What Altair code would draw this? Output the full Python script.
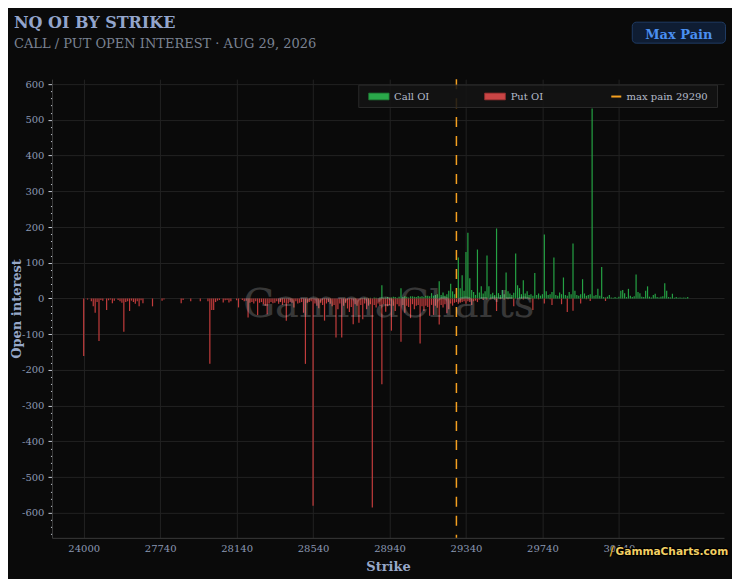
import json
import altair as alt
import pandas as pd

# ---------------- data ----------------
FAR_STRIKES = [24000, 24250, 24500, 24750, 25000, 25250, 25500, 25750, 26000, 26250,
               26500, 26600, 26700, 26800, 26900, 27000, 27050, 27100, 27150, 27200,
               27250, 27300, 27350, 27400, 27450, 27500, 27525, 27550, 27575, 27600,
               27620, 27640, 27660, 27680, 27690, 27700, 27710, 27720, 27725, 27730]
NEAR_STRIKES = [27740 + 10 * k for k in range(281)]   # 10-point strikes 27740 .. 30540
STRIKES = FAR_STRIKES + NEAR_STRIKES

CALL_OI = [
    0, 0, 0, 0, 0, 0, 0, 0, 0, 0, 0, 0, 0, 0, 0, 0, 0, 0, 0, 0,
    0, 0, 0, 0, 0, 0, 0, 0, 0, 0, 0, 0, 0, 0, 0, 0, 0, 0, 0, 0,
    0, 0, 0, 0, 0, 0, 0, 0, 0, 0, 0, 0, 0, 0, 0, 0, 0, 0, 0, 0,
    0, 0, 0, 0, 0, 0, 0, 0, 0, 0, 0, 0, 0, 0, 0, 0, 0, 0, 0, 0,
    0, 0, 0, 0, 0, 0, 0, 0, 0, 0, 0, 0, 0, 0, 0, 0, 0, 0, 0, 0,
    0, 0, 0, 0, 0, 0, 0, 0, 0, 0, 0, 0, 0, 0, 0, 0, 0, 0, 0, 0,
    0, 0, 0, 0, 0, 0, 0, 0, 0, 0, 0, 0, 0, 0, 0, 0, 0, 0, 0, 0,
    0, 0, 1, 0, 0, 1, 0, 2, 0, 1, 2, 0, 3, 2, 1, 3, 37, 2, 3, 4,
    2, 3, 5, 4, 2, 5, 29, 4, 6, 5, 3, 6, 6, 5, 4, 7, 5, 6, 4, 8,
    8, 6, 15, 8, 10, 12, 48, 10, 17, 8, 12, 22, 41, 20, 12, 14, 115, 29, 65, 22,
    130, 184, 57, 24, 18, 10, 137, 17, 34, 14, 20, 120, 34, 12, 16, 10, 196, 15, 10, 24,
    12, 73, 20, 14, 10, 16, 126, 37, 29, 12, 51, 14, 20, 10, 12, 8, 71, 10, 14, 8,
    12, 179, 20, 10, 12, 18, 115, 10, 8, 17, 12, 59, 10, 8, 18, 12, 154, 22, 10, 8,
    12, 54, 14, 8, 10, 12, 532, 8, 10, 27, 8, 88, 4, 3, 5, 10, 3, 2, 4, 2,
    5, 22, 24, 15, 4, 27, 8, 4, 6, 67, 18, 15, 5, 4, 22, 34, 5, 3, 10, 13,
    4, 3, 5, 6, 43, 22, 4, 3, 13, 2, 4, 2, 3, 2, 3, 2, 4, 0, 0, 0,
    0,
]

PUT_OI = [
    161, 0, 3, 0, 8, 22, 40, 10, 119, 4, 6, 0, 32, 5, 3, 13, 6, 0, 4, 8,
    12, 93, 10, 8, 35, 6, 10, 15, 8, 22, 5, 13, 0, 0, 0, 0, 22, 0, 0, 0,
    0, 6, 3, 0, 0, 0, 0, 0, 0, 0, 0, 13, 4, 0, 0, 0, 8, 0, 0, 0,
    0, 8, 0, 0, 0, 8, 183, 32, 32, 10, 6, 4, 0, 11, 5, 4, 11, 8, 0, 0,
    5, 25, 0, 4, 8, 6, 53, 12, 10, 14, 8, 46, 12, 10, 16, 20, 44, 14, 10, 13,
    12, 8, 15, 10, 18, 12, 62, 14, 10, 12, 25, 8, 14, 12, 10, 40, 183, 12, 10, 8,
    580, 14, 20, 27, 12, 18, 62, 14, 10, 15, 22, 18, 109, 30, 14, 109, 20, 12, 28, 38,
    24, 72, 16, 20, 68, 18, 58, 14, 30, 20, 16, 585, 18, 25, 14, 20, 240, 16, 37, 22,
    18, 90, 20, 35, 16, 22, 121, 18, 40, 20, 24, 55, 16, 30, 20, 18, 126, 22, 35, 20,
    24, 48, 18, 46, 20, 26, 73, 18, 25, 16, 41, 30, 14, 20, 12, 10, 15, 12, 10, 8,
    15, 8, 10, 18, 8, 6, 10, 3, 0, 4, 0, 3, 0, 2, 0, 3, 35, 0, 2, 0,
    3, 0, 2, 0, 0, 22, 0, 2, 0, 0, 3, 0, 0, 2, 0, 32, 0, 0, 2, 0,
    0, 14, 0, 0, 2, 18, 0, 0, 0, 0, 16, 0, 0, 38, 0, 0, 34, 0, 0, 0,
    14, 0, 0, 2, 0, 7, 0, 0, 0, 0, 0, 0, 0, 7, 0, 0, 0, 0, 0, 0,
    0, 0, 0, 0, 0, 0, 0, 0, 0, 0, 0, 0, 0, 0, 0, 0, 0, 0, 0, 0,
    0, 0, 0, 0, 0, 0, 0, 0, 0, 0, 0, 0, 0, 0, 0, 0, 0, 0, 0, 0,
    0,
]

TICK_LABELS = ["24000", "27740", "28140", "28540", "28940", "29340", "29740", "30140"]
MAX_PAIN = 29290
SERIES = ["Call OI", "Put OI"]

# ---------------- build table ----------------
rows = []
for i, s in enumerate(STRIKES):
    if CALL_OI[i] > 0:
        rows.append({"idx": i, "strike": s, "type": "Call OI", "oi": CALL_OI[i]})
    if PUT_OI[i] > 0:
        rows.append({"idx": i, "strike": s, "type": "Put OI", "oi": -PUT_OI[i]})
df = pd.DataFrame(rows)

tick_idx = [STRIKES.index(int(t)) for t in TICK_LABELS]
mp_idx = STRIKES.index(MAX_PAIN)

# ---------------- style ----------------
BG = "#0a0a0a"
GRID = "#222222"
DOMAIN = "#3a3a3a"
LBL = "#8a98b3"
TTL = "#97a8c9"
GREEN = "#25a244"
RED = "#c23c3c"
ORANGE = "#f5a020"
SERIF = "DejaVu Serif"

W, H = 672.5, 459

xscale = alt.Scale(domain=[-16.6, 335.0], nice=False, zero=False, padding=0)
yscale = alt.Scale(domain=[-670, 614], nice=False, zero=False, padding=0)

major = "datum.value % 100 === 0"
yaxis = alt.Axis(
    values=list(range(-660, 601, 20)),
    labelExpr=f"{major} ? '' + datum.value : ''",
    tickSize={"condition": {"test": major, "value": 4}, "value": 1.5},
    tickColor="#c9cfd9",
    grid=True,
    gridColor=GRID,
    gridOpacity={"condition": {"test": major, "value": 1}, "value": 0},
    domainColor=DOMAIN,
    labelColor=LBL, labelFont=SERIF, labelFontSize=10, labelPadding=4,
    title="Open interest", titleFont=SERIF, titleFontSize=13, titleFontWeight="bold",
    titleColor=TTL, titleX=-31, titleY=H / 2, titleBaseline="alphabetic",
)
xaxis = alt.Axis(
    values=tick_idx,
    labelExpr=f"{json.dumps(TICK_LABELS)}[indexof({json.dumps(tick_idx)}, datum.value)]",
    ticks=False, tickSize=0,
    grid=True, gridColor=GRID, domainColor=DOMAIN,
    labelColor=LBL, labelFont=SERIF, labelFontSize=10, labelPadding=6,
    title="Strike", titleFont=SERIF, titleFontSize=13, titleFontWeight="bold",
    titleColor=TTL, titleY=33, titleBaseline="alphabetic",
)

bars = alt.Chart(df).mark_bar(size=1.2, orient="vertical").encode(
    x=alt.X("idx:Q", scale=xscale, axis=xaxis),
    y=alt.Y("oi:Q", scale=yscale, axis=yaxis),
    y2=alt.datum(0),
    color=alt.Color("type:N", scale=alt.Scale(domain=SERIES, range=[GREEN, RED]), legend=None),
)

mp_rule = alt.Chart(pd.DataFrame({"idx": [mp_idx]})).mark_rule(
    color=ORANGE, strokeDash=[10, 9], strokeWidth=1.5
).encode(x=alt.X("idx:Q", scale=xscale))

one = alt.Data(values=[{}])


def txt(text, x, y, size, color, weight="normal", align="left", font=SERIF, **kw):
    return alt.Chart(one).mark_text(
        text=text, font=font, fontSize=size, fontWeight=weight, color=color,
        align=align, baseline="alphabetic", **kw
    ).encode(x=alt.value(x), y=alt.value(y))


def box(x, x2, y, y2, **kw):
    return alt.Chart(one).mark_rect(**kw).encode(
        x=alt.value(x), x2=alt.value(x2), y=alt.value(y), y2=alt.value(y2))


watermark = txt("GammaCharts", 337, 238, 40, "#ffffff", align="center", opacity=0.19)

legend_layers = [
    box(307, 666, 6, 28.4, fill="#131313", fillOpacity=0.88, stroke="#2a2a2a", strokeWidth=1),
    box(317, 337.3, 14, 20.7, fill="#2aa84a", stroke="#1f7f36", strokeWidth=0.8),
    box(433, 453.7, 14, 20.7, fill="#c94545", stroke="#9a3030", strokeWidth=0.8),
    alt.Chart(one).mark_rule(color=ORANGE, strokeWidth=2).encode(
        x=alt.value(559.7), x2=alt.value(569.7), y=alt.value(17.4)),
    txt("Call OI", 342.3, 20.5, 10, "#b4bccb"),
    txt("Put OI", 459, 20.5, 10, "#b4bccb"),
    txt(f"max pain {MAX_PAIN}", 575, 20.5, 10, "#b4bccb"),
]

header = [
    txt("NQ OI BY STRIKE", -38, -51, 16, "#93a5cc", weight="bold"),
    txt("CALL / PUT OPEN INTEREST · AUG 29, 2026", -38, -31, 13, "#7b8393"),
    box(580.7, 674, -57, -36, fill="#0f1d33", stroke="#1f3b63", strokeWidth=1, cornerRadius=4),
    txt("Max Pain", 627.3, -40.5, 13, "#4a8ff0", weight="bold", align="center"),
]

logo = [
    txt("/", 558, 476, 12, "#d9a830", weight="bold", font="DejaVu Sans"),
    txt("GammaCharts.com", 564, 475.7, 10.6, "#000000", weight="bold", font="DejaVu Sans",
        stroke="#000000", strokeWidth=2.5),
    txt("GammaCharts.com", 564, 475.7, 10.6, "#f2cf63", weight="bold", font="DejaVu Sans"),
]

chart = alt.layer(bars, mp_rule, watermark, *legend_layers, *header, *logo).properties(
    width=W, height=H,
    autosize=alt.AutoSizeParams(type="none"),
    padding={"left": 44, "top": 71, "right": 8, "bottom": 41},
    background=BG,
).configure_view(strokeWidth=0)

chart.save("out.html", embed_options={"renderer": "svg", "actions": False})
